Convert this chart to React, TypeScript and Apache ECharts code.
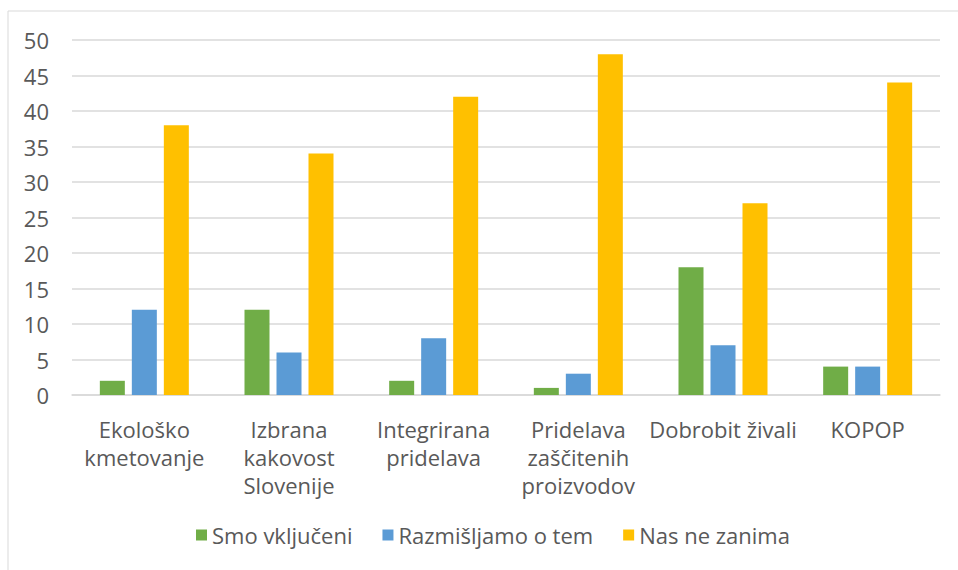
import React, { useEffect, useRef } from "react";
import * as echarts from "echarts";

const categories = [
  "Ekološko\nkmetovanje",
  "Izbrana\nkakovost\nSlovenije",
  "Integrirana\npridelava",
  "Pridelava\nzaščitenih\nproizvodov",
  "Dobrobit živali",
  "KOPOP",
];
const smoVkljuceni = [2, 12, 2, 1, 18, 4];
const razmisljamo = [12, 6, 8, 3, 7, 4];
const nasNeZanima = [38, 34, 42, 48, 27, 44];
const seriesNames = ["Smo vključeni", "Razmišljamo o tem", "Nas ne zanima"];
const colors = ["#70AD47", "#5B9BD5", "#FFC000"];

const FONT = "'Open Sans', sans-serif";

export default function App() {
  const ref = useRef<HTMLDivElement>(null);
  useEffect(() => {
    if (!ref.current) return;
    const chart = echarts.init(ref.current, undefined, { renderer: "svg" });
    const data = [smoVkljuceni, razmisljamo, nasNeZanima];
    chart.setOption({
      animation: false,
      backgroundColor: "#ffffff",
      textStyle: { fontFamily: FONT },
      grid: { left: 72, right: 18, top: 40, bottom: 175, containLabel: false },
      legend: {
        data: seriesNames,
        bottom: 19,
        left: 191,
        icon: "rect",
        itemWidth: 11,
        itemHeight: 11,
        itemGap: 30,
        textStyle: { color: "#595959", fontSize: 22, fontFamily: FONT },
      },
      xAxis: {
        type: "category",
        data: categories,
        axisLine: { lineStyle: { color: "#d9d9d9", width: 1.5 } },
        axisTick: { show: false },
        axisLabel: {
          color: "#595959",
          fontSize: 22,
          lineHeight: 28,
          margin: 20,
          interval: 0,
          fontFamily: FONT,
        },
      },
      yAxis: {
        type: "value",
        min: 0,
        max: 50,
        interval: 5,
        axisLine: { show: false },
        axisTick: { show: false },
        axisLabel: { color: "#595959", fontSize: 22, margin: 23, fontFamily: FONT },
        splitLine: { lineStyle: { color: "#d9d9d9", width: 1.5 } },
      },
      series: seriesNames.map((name, i) => ({
        name,
        type: "bar",
        data: data[i],
        barWidth: 25,
        barGap: "28%",
        itemStyle: { color: colors[i] },
      })),
      graphic: [
        { type: "line", shape: { x1: 8, y1: 11, x2: 958, y2: 11 }, style: { stroke: "#d9d9d9", lineWidth: 1 } },
        { type: "line", shape: { x1: 8, y1: 11, x2: 8, y2: 570 }, style: { stroke: "#d9d9d9", lineWidth: 1 } },
      ],
    });
    return () => chart.dispose();
  }, []);
  return (
    <div
      ref={ref}
      style={{ position: "fixed", left: 0, top: 0, width: 958, height: 570 }}
    />
  );
}
